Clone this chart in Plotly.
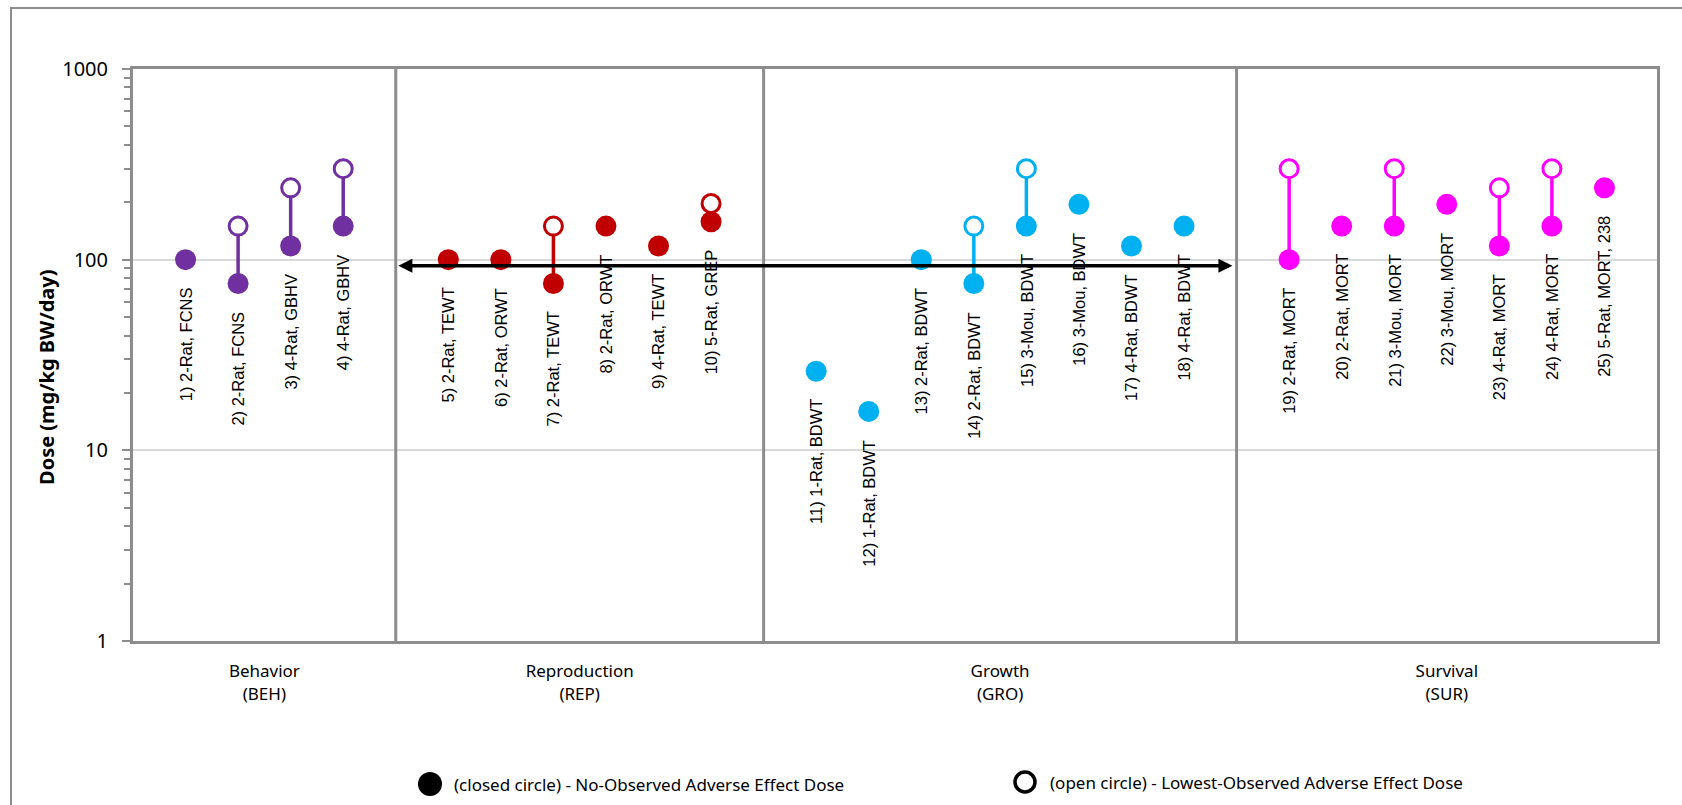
import math
import plotly.graph_objects as go

# ---- data -------------------------------------------------------------
groups = ["Behavior<br>(BEH)", "Reproduction<br>(REP)", "Growth<br>(GRO)", "Survival<br>(SUR)"]
group_colors = ["#7030A0", "#C00000", "#00B0F0", "#FF00FF"]
group_sizes = [4, 6, 8, 7]

study_labels = [
    "1) 2-Rat, FCNS", "2) 2-Rat, FCNS", "3) 4-Rat, GBHV", "4) 4-Rat, GBHV",
    "5) 2-Rat, TEWT", "6) 2-Rat, ORWT", "7) 2-Rat, TEWT", "8) 2-Rat, ORWT",
    "9) 4-Rat, TEWT", "10) 5-Rat, GREP",
    "11) 1-Rat, BDWT", "12) 1-Rat, BDWT", "13) 2-Rat, BDWT", "14) 2-Rat, BDWT",
    "15) 3-Mou, BDWT", "16) 3-Mou, BDWT", "17) 4-Rat, BDWT", "18) 4-Rat, BDWT",
    "19) 2-Rat, MORT", "20) 2-Rat, MORT", "21) 3-Mou, MORT", "22) 3-Mou, MORT",
    "23) 4-Rat, MORT", "24) 4-Rat, MORT", "25) 5-Rat, MORT, 238",
]
# No-observed adverse effect dose (closed circles)
noael = [100, 75, 118, 150,
         100, 100, 75, 150, 118, 158,
         26, 16, 100, 75, 150, 195, 118, 150,
         100, 150, 150, 195, 118, 150, 238]
# Lowest-observed adverse effect dose (open circles)
loael = [None, 150, 238, 300,
         None, None, 150, None, None, 197,
         None, None, None, 150, 300, None, None, None,
         300, None, 300, None, 238, 300, None]

# horizontal double arrow level (mg/kg BW/day)
arrow_level = 93

key_texts = ["(closed circle) - No-Observed Adverse Effect Dose",
             "(open circle) - Lowest-Observed Adverse Effect Dose"]

# ---- geometry -----------------------------------------------------------
W, H = 1682, 805
M_L, M_R, M_T, M_B = 133, 25, 69, 164
PW, PH = W - M_L - M_R, H - M_T - M_B


def px_x(px):
    return (px - M_L) / PW


def px_y(py):
    return (H - M_B - py) / PH


# one slot per study, one empty slot between groups
xpos, gidx, dividers, centers = [], [], [], []
slot = 0
for g, n in enumerate(group_sizes):
    start = slot
    for _ in range(n):
        slot += 1
        xpos.append(slot)
        gidx.append(g)
    slot += 1
    centers.append((start + slot) / 2)
    dividers.append(slot)
x_max = dividers[-1]
dividers = dividers[:-1]

fig = go.Figure()

# connectors between NOAEL and LOAEL
for g, col in enumerate(group_colors):
    lx, ly = [], []
    for i in range(len(xpos)):
        if gidx[i] == g and loael[i] is not None:
            lx += [xpos[i], xpos[i], None]
            ly += [noael[i], loael[i], None]
    if lx:
        fig.add_trace(go.Scatter(x=lx, y=ly, mode="lines", line=dict(color=col, width=3.5),
                                 showlegend=False, hoverinfo="skip"))

# closed and open markers per group
for g, col in enumerate(group_colors):
    idx = [i for i in range(len(xpos)) if gidx[i] == g]
    fig.add_trace(go.Scatter(
        x=[xpos[i] for i in idx], y=[noael[i] for i in idx], mode="markers",
        marker=dict(symbol="circle", size=21, color=col, line=dict(width=0)),
        showlegend=False, text=[study_labels[i] for i in idx], hovertemplate="%{text}: %{y}<extra></extra>"))
    oidx = [i for i in idx if loael[i] is not None]
    fig.add_trace(go.Scatter(
        x=[xpos[i] for i in oidx], y=[loael[i] for i in oidx], mode="markers",
        marker=dict(symbol="circle", size=18, color="white", line=dict(color=col, width=3)),
        showlegend=False, text=[study_labels[i] for i in oidx], hovertemplate="%{text}: %{y}<extra></extra>"))

annotations = []
# rotated study labels under the closed markers
for i, lab in enumerate(study_labels):
    annotations.append(dict(
        x=xpos[i], y=math.log10(noael[i]), xref="x", yref="y", text=lab,
        textangle=-90, showarrow=False, xanchor="center", yanchor="top", yshift=-26,
        font=dict(family="Liberation Sans, Arial, sans-serif", size=16.5, color="#000000")))

# double-headed arrow spanning reproduction and growth
annotations.append(dict(
    x=dividers[0] + 0.05, y=math.log10(arrow_level), xref="x", yref="y",
    ax=dividers[2] - 0.05, ay=math.log10(arrow_level), axref="x", ayref="y",
    text="", showarrow=True, arrowhead=2, startarrowhead=2, arrowside="end+start",
    arrowwidth=3.5, arrowsize=0.8, startarrowsize=0.8, arrowcolor="#000000",
    standoff=0, startstandoff=0))

# y-axis title
annotations.append(dict(
    x=px_x(46), y=px_y(377), xref="paper", yref="paper", text="<b>Dose (mg/kg BW/day)</b>",
    textangle=-90, showarrow=False, xanchor="center", yanchor="middle",
    font=dict(family="Noto Sans, Open Sans, sans-serif", size=20, color="#000000")))

shapes = []
for d in dividers:
    shapes.append(dict(type="line", xref="x", yref="paper", x0=d, x1=d, y0=0, y1=1,
                       line=dict(color="#8C8C8C", width=3)))
# outer chart border
shapes.append(dict(type="rect", xref="paper", yref="paper",
                   x0=px_x(11), x1=px_x(W + 20), y0=px_y(H + 20), y1=px_y(8),
                   line=dict(color="#8C8C8C", width=2), layer="below"))

# key: closed / open circle explanation
key_items = [(430, 784, True), (1025, 782, False)]
for (cx, cy, filled), txt in zip(key_items, key_texts):
    r = 12 if filled else 10
    shapes.append(dict(type="circle", xref="paper", yref="paper",
                       xsizemode="pixel", ysizemode="pixel",
                       xanchor=px_x(cx), yanchor=px_y(cy),
                       x0=-r, x1=r, y0=-r, y1=r,
                       fillcolor="#000000" if filled else "#FFFFFF",
                       line=dict(color="#000000", width=0 if filled else 3.5)))
    annotations.append(dict(
        x=px_x(cx + 22 if filled else cx + 23), y=px_y(cy), xref="paper", yref="paper",
        text=txt, showarrow=False, xanchor="left", yanchor="middle",
        font=dict(family="Noto Sans, Open Sans, sans-serif", size=17, color="#000000")))

minor_vals = [m * 10 ** e for e in range(0, 3) for m in range(2, 10)]

fig.update_layout(
    width=W, height=H,
    margin=dict(l=M_L, r=M_R, t=M_T, b=M_B),
    paper_bgcolor="white", plot_bgcolor="white",
    showlegend=False,
    xaxis=dict(range=[0, x_max], showgrid=False, zeroline=False,
               tickmode="array", tickvals=centers, ticktext=groups, ticks="",
               ticklabelstandoff=13, automargin=False,
               tickfont=dict(family="Noto Sans, Open Sans, sans-serif", size=17, color="#000000"),
               showline=True, mirror=True, linecolor="#8C8C8C", linewidth=3),
    yaxis=dict(type="log", range=[0, 3], showgrid=True, gridcolor="#D9D9D9", gridwidth=2,
               zeroline=False, tickmode="array", tickvals=[1, 10, 100, 1000],
               ticktext=["1", "10", "100", "1000"], ticks="outside", ticklen=8, tickwidth=2,
               tickcolor="#8C8C8C", ticklabelstandoff=10, automargin=False,
               tickfont=dict(family="Noto Sans, Open Sans, sans-serif", size=20, color="#000000"),
               minor=dict(tickvals=minor_vals, ticks="outside", ticklen=6, tickwidth=2,
                          tickcolor="#8C8C8C", showgrid=False),
               showline=True, mirror=True, linecolor="#8C8C8C", linewidth=3),
    annotations=annotations,
    shapes=shapes,
)

fig.write_html("out.html")
